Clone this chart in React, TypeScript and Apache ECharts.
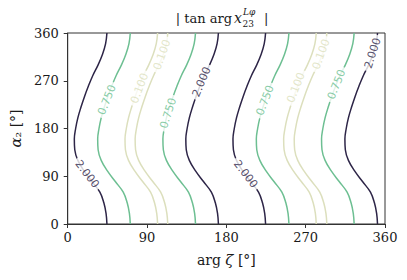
import React, { useEffect, useRef } from "react";
import * as echarts from "echarts";

// contour levels & positions of each line at alpha2 = 0
const lineLevels = ["2.000", "0.750", "0.100", "0.100", "0.750", "2.000", "2.000", "0.750", "0.100", "0.100", "0.750", "2.000"];
const lineBaseZeta = [44.5, 71, 102, 113.5, 145, 171, 224.5, 251, 282, 294, 325, 351.5];
// horizontal displacement of the contours vs alpha2
const alpha2 = [0, 20, 40, 60, 80, 100, 120, 140, 160, 180, 200, 220, 240, 260, 280, 300, 320, 340, 360];
const shiftZeta = [0, -1, -3.5, -8, -17, -26, -33, -36.5, -37, -35.5, -33, -29.5, -25.5, -21, -16, -10, -5, -1.5, 0];

// inline contour labels
const labelText = ["2.000", "0.750", "0.100", "0.100", "0.750", "2.000", "2.000", "0.750", "0.100", "0.100", "0.750", "2.000"];
const labelZeta = [22, 44.5, 81.5, 107, 114, 152, 202, 224, 259, 287.5, 305, 346];
const labelAlpha = [94, 234, 256, 319, 209, 268, 94, 233, 257, 320, 263, 322];
const labelAngle = [-52, 68, 69, 70, 72, 67, -52, 69, 69, 70, 68, 72];

const xTicks = [0, 90, 180, 270, 360];
const yTicks = [0, 90, 180, 270, 360];

const levelColor: Record<string, string> = {
  "2.000": "#2d2547",
  "0.750": "#6dbf92",
  "0.100": "#dcdfbd",
};

const SERIF = "DejaVu Serif";
const INK = "#1a1a1a";

export default function App() {
  const ref = useRef<HTMLDivElement>(null);
  useEffect(() => {
    document.body.style.margin = "0";
    if (!ref.current) return;
    const chart = echarts.init(ref.current, undefined, { renderer: "svg" });
    const lineSeries = lineBaseZeta.map((b, i) => ({
      type: "line",
      data: alpha2.map((a, k) => [b + shiftZeta[k], a]),
      smooth: 0.4,
      showSymbol: false,
      symbol: "none",
      lineStyle: { color: levelColor[lineLevels[i]], width: 1.5 },
      z: 2,
      silent: true,
    }));
    const labelSeries = {
      type: "scatter",
      symbolSize: 0,
      z: 5,
      silent: true,
      data: labelText.map((t, i) => ({
        value: [labelZeta[i], labelAlpha[i]],
        name: t,
        label: {
          show: true,
          position: "inside",
          formatter: t,
          rotate: labelAngle[i],
          color: levelColor[t],
          fontFamily: "DejaVu Sans",
          fontSize: 11,
          backgroundColor: "#ffffff",
          padding: [0, 3],
        },
      })),
    };
    const axisCommon = {
      type: "value",
      min: 0,
      max: 360,
      interval: 90,
      axisLine: { show: true, lineStyle: { color: "#333", width: 1 } },
      axisTick: { show: true, inside: false, length: 4, lineStyle: { color: "#333" } },
      splitLine: { show: false },
    };
    const nameStyle = {
      color: INK,
      fontFamily: SERIF,
      fontSize: 14,
      rich: { i: { fontStyle: "italic", fontFamily: SERIF, fontSize: 15, color: INK } },
    };
    chart.setOption({
      animation: false,
      backgroundColor: "#ffffff",
      grid: { left: 63, right: 22, top: 33, bottom: 56, show: true, borderColor: "#333", borderWidth: 1, backgroundColor: "transparent" },
      xAxis: {
        ...axisCommon,
        axisLabel: { color: INK, fontFamily: SERIF, fontSize: 13, margin: 7, formatter: (v: number) => (xTicks.includes(v) ? String(v) : "") },
        name: "arg {i|ζ} [°]",
        nameLocation: "middle",
        nameGap: 28,
        nameTextStyle: nameStyle,
      },
      yAxis: {
        ...axisCommon,
        axisLabel: { color: INK, fontFamily: SERIF, fontSize: 13, margin: 9, formatter: (v: number) => (yTicks.includes(v) ? String(v) : "") },
        name: "{i|α}₂ [°]",
        nameLocation: "middle",
        nameGap: 44,
        nameTextStyle: nameStyle,
      },
      graphic: [
        { type: "text", x: 232, y: 18, style: { text: "| tan arg", fontFamily: SERIF, fontSize: 13, fill: INK, textAlign: "right", textVerticalAlign: "middle" } },
        { type: "text", x: 234, y: 18, style: { text: "x", fontFamily: SERIF, fontStyle: "italic", fontSize: 14, fill: INK, textAlign: "left", textVerticalAlign: "middle" } },
        { type: "text", x: 243, y: 12, style: { text: "Lφ", fontFamily: SERIF, fontStyle: "italic", fontSize: 9, fill: INK, textAlign: "left", textVerticalAlign: "middle" } },
        { type: "text", x: 242.5, y: 24, style: { text: "23", fontFamily: SERIF, fontSize: 9, fill: INK, textAlign: "left", textVerticalAlign: "middle" } },
        { type: "text", x: 264, y: 18, style: { text: "|", fontFamily: SERIF, fontSize: 13, fill: INK, textAlign: "left", textVerticalAlign: "middle" } },
      ],
      series: [...lineSeries, labelSeries],
    });
    return () => chart.dispose();
  }, []);
  return <div ref={ref} style={{ width: 407, height: 280 }} />;
}
